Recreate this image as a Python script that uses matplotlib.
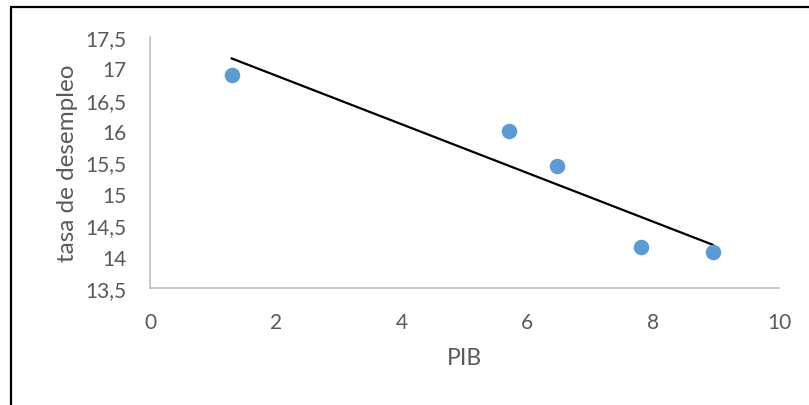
import numpy as np
import matplotlib
matplotlib.use("Agg")
import matplotlib.pyplot as plt
from matplotlib.ticker import FuncFormatter, MultipleLocator

# datos
pib = [1.3, 5.7, 6.47, 7.8, 8.95]
desempleo = [16.9, 16.0, 15.45, 14.15, 14.08]

plt.rcParams['font.family'] = ['Lato', 'DejaVu Sans']

fig = plt.figure(figsize=(8.09, 4.06), dpi=100)
ax = fig.add_axes([0.1854, 0.2882, 0.7775, 0.6182])

ax.scatter(pib, desempleo, s=125, color='#5B9BD5', zorder=3, linewidths=0)

# línea de tendencia lineal
m, b = np.polyfit(pib, desempleo, 1)
xs = np.array([min(pib), max(pib)])
ax.plot(xs, m * xs + b, color='black', lw=1.6, zorder=2)

ax.set_xlim(0, 10)
ax.set_ylim(13.5, 17.5)
ax.xaxis.set_major_locator(MultipleLocator(2))
ax.yaxis.set_major_locator(MultipleLocator(0.5))
fmt = FuncFormatter(lambda v, p: f"{v:g}".replace('.', ','))
ax.xaxis.set_major_formatter(fmt)
ax.yaxis.set_major_formatter(fmt)

for s in ['top', 'right']:
    ax.spines[s].set_visible(False)
for s in ['left', 'bottom']:
    ax.spines[s].set_color('#BFBFBF')
    ax.spines[s].set_linewidth(1.2)
ax.tick_params(length=0, labelsize=15, labelcolor='#595959')
ax.tick_params(axis='x', pad=17)
ax.tick_params(axis='y', pad=17)

ax.set_xlabel('PIB', fontsize=16.5, color='#595959', labelpad=11)
ax.set_ylabel('tasa de desempleo', fontsize=17.5, color='#595959', labelpad=5)

# borde del gráfico
fig.add_artist(plt.Rectangle((11 / 809, -0.05), 1.2, 1.05 - 8 / 406,
                             transform=fig.transFigure, fill=False,
                             edgecolor='black', lw=1.6))

fig.savefig('out.png', dpi=100)
